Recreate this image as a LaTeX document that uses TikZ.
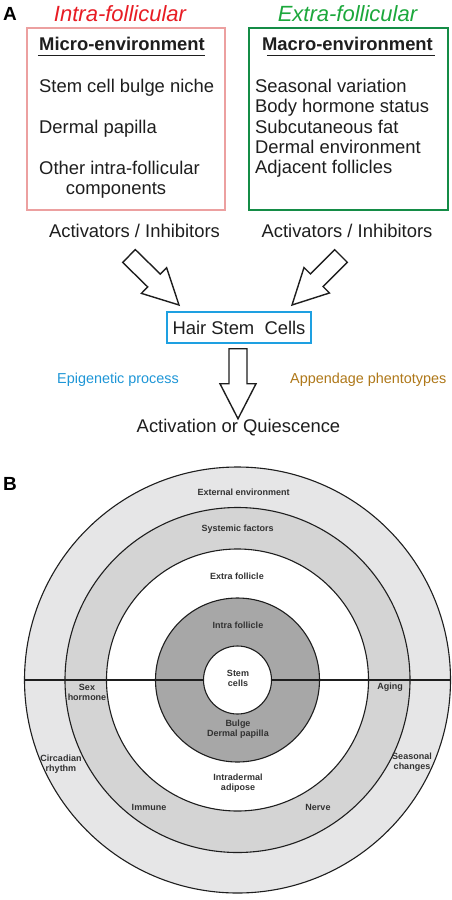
\documentclass[tikz,border=0pt]{standalone}
\usepackage{fontspec}
\setmainfont{Liberation Sans}
\usetikzlibrary{calc}
\definecolor{redtitle}{RGB}{232,28,36}
\definecolor{greentitle}{RGB}{28,168,60}
\definecolor{pinkbox}{RGB}{236,160,160}
\definecolor{greenbox}{RGB}{20,140,70}
\definecolor{bluebox}{RGB}{30,160,225}
\definecolor{epiblue}{RGB}{30,150,215}
\definecolor{appbrown}{RGB}{175,120,25}
\definecolor{ringA}{RGB}{230,230,231}
\definecolor{ringB}{RGB}{212,212,212}
\definecolor{ringC}{RGB}{167,167,167}
\definecolor{labgray}{RGB}{50,50,50}
\definecolor{inkA}{RGB}{30,30,30}
\newcommand{\fatarrow}[2]{%
  \coordinate (fb) at ($(#2)!35pt!(#1)$);
  \draw[fatarrowstyle] ($(#1)!9pt!90:(#2)$) -- ($(fb)!9pt!-90:(#1)$) -- ($(fb)!18pt!-90:(#1)$) -- (#2)
    -- ($(fb)!18pt!90:(#1)$) -- ($(fb)!9pt!90:(#1)$) -- ($(#1)!9pt!-90:(#2)$) -- cycle;}
\begin{document}
\begin{tikzpicture}[x=1pt,y=-1pt,
  bigtext/.style={font=\fontsize{18.4}{20.5}\selectfont, inner sep=0, text=inkA},
  boldhead/.style={font=\fontsize{18.4}{20.5}\selectfont\bfseries, inner sep=0, text=inkA},
  titletext/.style={font=\fontsize{22}{24}\selectfont\itshape, inner sep=0},
  panellabel/.style={font=\fontsize{19}{20}\selectfont\bfseries, inner sep=0},
  smalltext/.style={font=\fontsize{14.4}{16}\selectfont, inner sep=0},
  lab/.style={font=\fontsize{9}{10}\selectfont\bfseries, text=labgray, inner sep=0, align=center},
  ring/.style={circle, draw=inkA, line width=1.1pt, inner sep=0},
  ringline/.style={draw=inkA, line width=1.1pt},
  fatarrowstyle/.style={draw=inkA, line width=1.4pt, fill=white, line join=miter},
  framebox/.style={line width=1.5pt, inner sep=0, anchor=north west}]
\useasboundingbox (0,0) rectangle (451,900);
\fill[white] (0,0) rectangle (451,900);

% ---------- Panel A ----------
\node[panellabel, anchor=base west] (lblA) at (3,20) {A};
\node[titletext, text=redtitle, anchor=base] (intra) at (120,21) {Intra-follicular};
\node[titletext, text=greentitle, anchor=base] (extra) at (347.5,21) {Extra-follicular};

\node[framebox, draw=pinkbox, minimum width=198, minimum height=182] (microbox) at (26,27) {};
\node[framebox, draw=greenbox, minimum width=199, minimum height=182] (macrobox) at (248,27) {};

\node[boldhead, anchor=base] (micro) at (122,50) {Micro-environment};
\draw[line width=1.7pt, inkA] ($(micro.base west)+(-1,5.5)$) -- ($(micro.base east)+(0,5.5)$);
\node[boldhead, anchor=base] (macro) at (347.5,50) {Macro-environment};
\draw[line width=1.7pt, inkA] ($(macro.base west)+(5,5.5)$) -- ($(macro.base east)+(2,5.5)$);

\node[bigtext, anchor=base west] (m1) at (39,92) {Stem cell bulge niche};
\node[bigtext, anchor=base west] (m2) at (39,133) {Dermal papilla};
\node[bigtext, anchor=base west] (m3) at (39,174) {Other intra-follicular};
\node[bigtext, anchor=base] (m4) at (116,194) {components};

\node[bigtext, anchor=base west] (e1) at (255,92) {Seasonal variation};
\node[bigtext, anchor=base west] (e2) at (255,112.5) {Body hormone status};
\node[bigtext, anchor=base west] (e3) at (255,133) {Subcutaneous fat};
\node[bigtext, anchor=base west] (e4) at (255,153) {Dermal environment};
\node[bigtext, anchor=base west] (e5) at (255,173.5) {Adjacent follicles};

\node[bigtext, anchor=base] (actL) at (134.5,237) {Activators / Inhibitors};
\node[bigtext, anchor=base] (actR) at (347,237) {Activators / Inhibitors};

\node[bigtext, draw=bluebox, line width=1.5pt, minimum width=144, minimum height=31] (hsc) at (239,327.5) {Hair Stem\ \ Cells};

\node[smalltext, text=epiblue, anchor=base west] (epi) at (57,383) {Epigenetic process};
\node[smalltext, text=appbrown, anchor=base west] (app) at (290,383) {Appendage phentotypes};

\node[bigtext, anchor=base] (aq) at (238.5,432) {Activation or Quiescence};

\coordinate (tL) at (129,256);
\coordinate (pL) at (179,305);
\coordinate (tR) at (341,256);
\coordinate (pR) at (292,305);
\coordinate (tD) at ($(hsc.south)+(-1,5)$);
\coordinate (pD) at ($(hsc.south)+(-1,75)$);
\fatarrow{tL}{pL}
\fatarrow{tR}{pR}
\fatarrow{tD}{pD}

% ---------- Panel B ----------
\node[panellabel, anchor=base west] (lblB) at (3,490) {B};
\coordinate (c) at (237.5,680);
\node[ring, fill=ringA, minimum size=426] (outer) at (c) {};
\node[ring, fill=ringB, minimum size=345] (sys) at (c) {};
\node[ring, fill=white, minimum size=262] (extraf) at (c) {};
\node[ring, fill=ringC, minimum size=164] (intraf) at (c) {};
\node[ring, fill=white, minimum size=68] (core) at (c) {};
\draw[ringline] (outer.west) -- (core.west);
\draw[ringline] (core.east) -- (outer.east);

\node[lab] (l1) at (243.7,492) {External environment};
\node[lab] (l2) at (237.7,529) {Systemic factors};
\node[lab] (l3) at (237,576) {Extra follicle};
\node[lab] (l4) at (238,625) {Intra follicle};
\node[lab] (l5) at (238,678) {Stem\\cells};
\node[lab] (l6) at (238,729) {Bulge\\Dermal papilla};
\node[lab] (l7) at (238,783.5) {Intradermal\\adipose};
\node[lab] (l8) at (87,692) {Sex\\hormone};
\node[lab] (l9) at (390,687) {Aging};
\node[lab] (l10) at (61,764) {Circadian\\rhythm};
\node[lab] (l11) at (412,762) {Seasonal\\changes};
\node[lab] (l12) at (149,807) {Immune};
\node[lab] (l13) at (318,807) {Nerve};
\end{tikzpicture}
\end{document}
